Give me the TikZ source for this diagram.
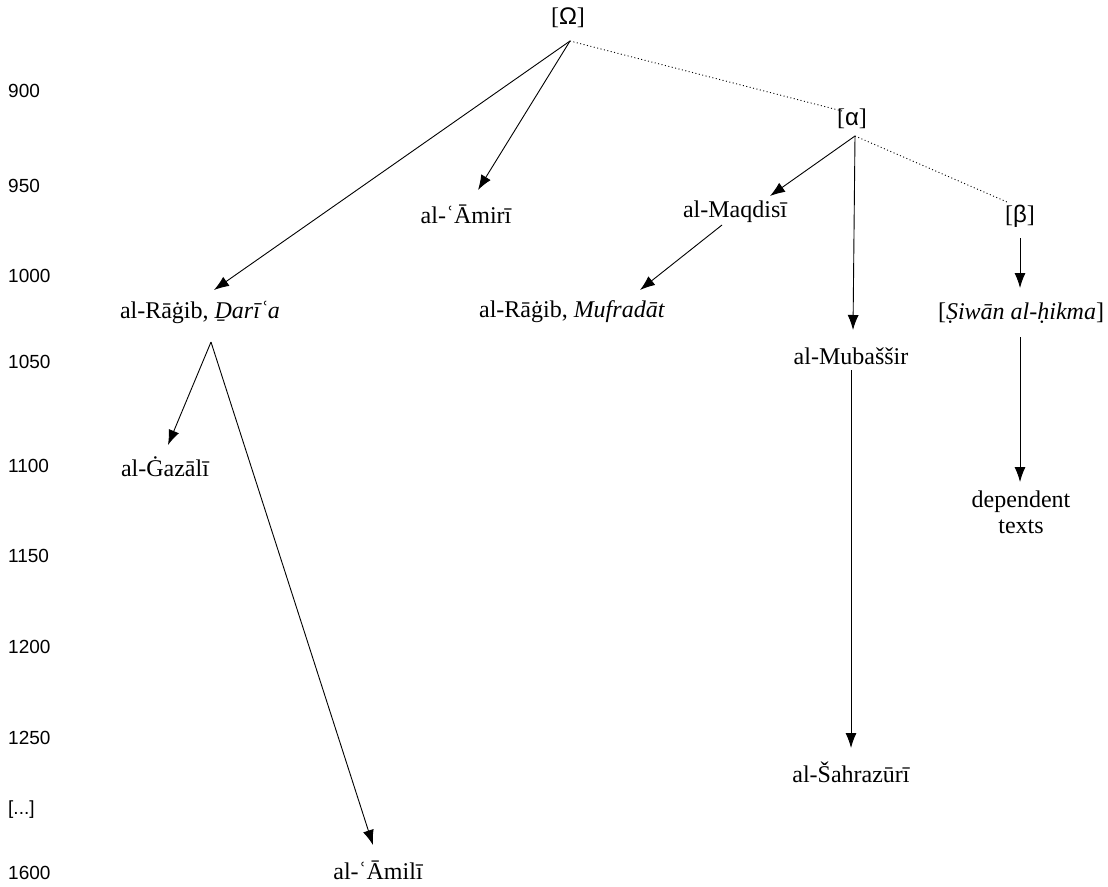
\documentclass[tikz,border=0pt]{standalone}
\usepackage{fontspec}
\setmainfont{Liberation Serif}
\newfontfamily\grk{Liberation Sans}
\usetikzlibrary{arrows.meta}
\begin{document}
\begin{tikzpicture}[x=1pt,y=-1pt,
  lbl/.style={font=\fontsize{24}{29}\selectfont, inner sep=0pt, anchor=center},
  yr/.style={font=\grk\fontsize{19}{22}\selectfont, anchor=west, inner sep=0pt},
  arr/.style={line width=0.9pt, -{Latex[length=15pt,width=11pt]}},
  dotline/.style={line width=0.9pt, dash pattern=on 1pt off 2.5pt}]
\useasboundingbox (0,0) rectangle (1108,886);
% year scale
\node[yr] (y900) at (8,91) {900};
\node[yr] (y950) at (8,186) {950};
\node[yr] (y1000) at (8,276) {1000};
\node[yr] (y1050) at (8,362) {1050};
\node[yr] (y1100) at (8,466) {1100};
\node[yr] (y1150) at (8,556) {1150};
\node[yr] (y1200) at (8,647) {1200};
\node[yr] (y1250) at (8,738) {1250};
\node[yr] (ydots) at (8,810) {[...]};
\node[yr] (y1600) at (8,873) {1600};
% nodes
\node[lbl] (Om) at (568,18) {[{\grk Ω}]};
\node[lbl] (Al) at (852,119) {[{\grk α}]};
\node[lbl] (Be) at (1020,216) {[{\grk β}]};
\node[lbl] (Rg1) at (200,312) {al-Rāġib, \textit{Ḏarīʿa}};
\node[lbl] (Am) at (466,214) {al-ʿĀmirī};
\node[lbl] (Mq) at (735,212) {al-Maqdisī};
\node[lbl] (Rg2) at (572,312) {al-Rāġib, \textit{Mufradāt}};
\node[lbl] (Mb) at (851,356) {al-Mubaššir};
\node[lbl] (Sw) at (1021,313) {[\textit{Ṣiwān al-ḥikma}]};
\node[lbl] (Gz) at (165,467) {al-Ġazālī};
\node[lbl] (Ml) at (378,870) {al-ʿĀmilī};
\node[lbl] (Sh) at (851,772) {al-Šahrazūrī};
\node[lbl, align=center, font=\fontsize{24}{26}\selectfont] (Dp) at (1021,512) {dependent\\texts};
% connector points
\coordinate (Om-c) at (570,41);
\coordinate (Al-c) at (855,136);
\coordinate (Al-in) at (842,111);
\coordinate (Be-in) at (1007,202);
\coordinate (Rg1-c) at (211,342);
\coordinate (Rg1-in) at (214,290);
\coordinate (Am-in) at (478,190);
\coordinate (Mq-in) at (770,196);
\coordinate (Mq-out) at (722,225);
\coordinate (Rg2-in) at (640,290);
\coordinate (Mb-in) at (853,330);
\coordinate (Mb-out) at (851,370);
\coordinate (Sh-in) at (851,748);
\coordinate (Be-out) at (1020,238);
\coordinate (Sw-in) at (1020,288);
\coordinate (Sw-out) at (1020,337);
\coordinate (Dp-in) at (1020,482);
\coordinate (Gz-in) at (168,445);
\coordinate (Ml-in) at (373,845);
% connectors
\draw[arr] (Om-c) -- (Rg1-in);
\draw[arr] (Om-c) -- (Am-in);
\draw[dotline] (Om-c) -- (Al-in);
\draw[arr] (Al-c) -- (Mq-in);
\draw[arr] (Al-c) -- (Mb-in);
\draw[dotline] (Al-c) -- (Be-in);
\draw[arr] (Be-out) -- (Sw-in);
\draw[arr] (Sw-out) -- (Dp-in);
\draw[arr] (Mq-out) -- (Rg2-in);
\draw[arr] (Mb-out) -- (Sh-in);
\draw[arr] (Rg1-c) -- (Gz-in);
\draw[arr] (Rg1-c) -- (Ml-in);
\end{tikzpicture}
\end{document}
